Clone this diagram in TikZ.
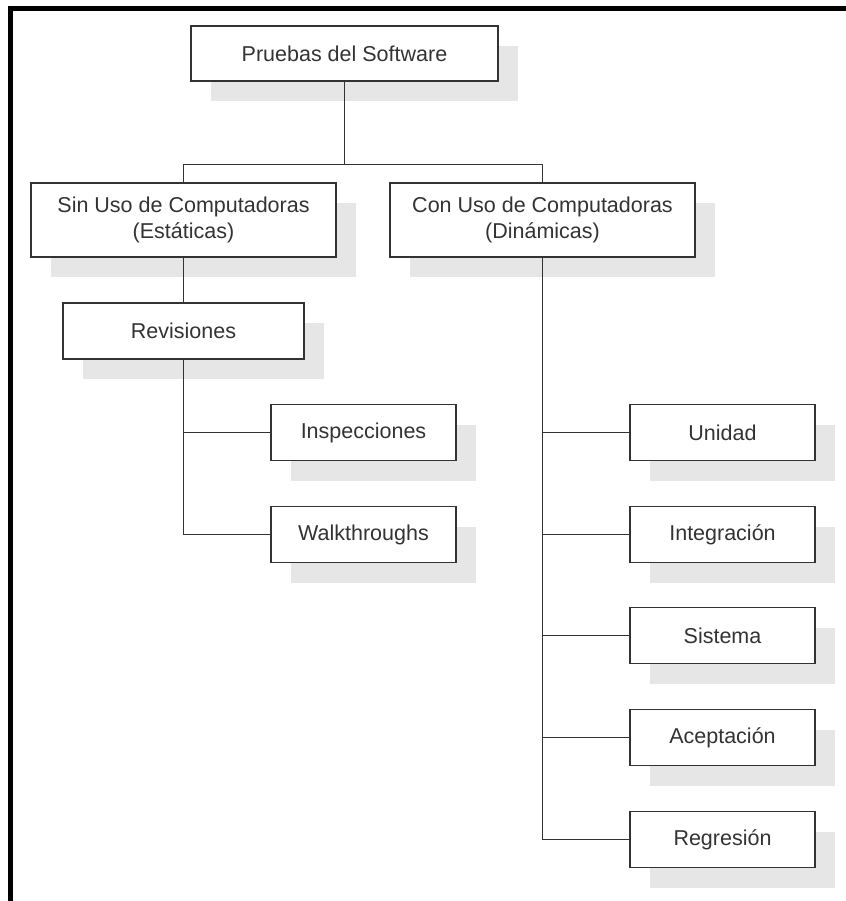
\documentclass[tikz,border=0pt]{standalone}
\usepackage{fontspec}
\setmainfont{Liberation Sans}
\usetikzlibrary{shadows}
\definecolor{ink}{HTML}{333333}
\definecolor{shade}{HTML}{E6E6E6}
\begin{document}
\begin{tikzpicture}[x=1bp,y=-1bp,
  box/.style={draw=ink, line width=1.7bp, fill=white, text=ink,
    inner sep=0pt, align=center,
    font=\fontsize{21.5bp}{26bp}\selectfont,
    general shadow={fill=shade, shadow xshift=20bp, shadow yshift=-20bp}},
  wide/.style={box, minimum width=305bp, minimum height=74bp},
  mid/.style={box, minimum width=241bp, minimum height=56bp},
  leaf/.style={box, minimum width=185bp, minimum height=56bp},
  link/.style={draw=ink, line width=1.7bp}]
  % page frame
  \useasboundingbox (0,0) rectangle (846,901);
  \fill[black] (8,6) rectangle (846,11);
  \fill[black] (8,6) rectangle (13,901);

  % root
  \node[box, minimum width=307bp, minimum height=55bp] (root) at (344.5,53.5) {Pruebas del Software};

  % first level
  \node[wide] (stat) at (183.5,220) {Sin Uso de Computadoras\\(Estáticas)};
  \node[wide] (dyn)  at (542.5,220) {Con Uso de Computadoras\\(Dinámicas)};

  % static branch
  \node[mid]  (rev)  at (183.5,331) {Revisiones};
  \node[leaf] (insp) at (363.5,432.5) {Inspecciones};
  \node[leaf] (walk) at (363.5,534.5) {Walkthroughs};

  % dynamic branch
  \node[leaf] (unit) at (722.5,432.5) {Unidad};
  \node[leaf] (intg) at (722.5,534.5) {Integración};
  \node[leaf] (sys)  at (722.5,635.5) {Sistema};
  \node[leaf] (acc)  at (722.5,737.5) {Aceptación};
  \node[leaf] (reg)  at (722.5,839.5) {Regresión};

  % connectors
  \coordinate (bus) at (344.5,164.5);
  \draw[link] (root.south) -- (bus);
  \draw[link] (stat.north) -- (stat.north |- bus) -- (dyn.north |- bus) -- (dyn.north);
  \draw[link] (stat.south) -- (rev.north);
  \draw[link] (rev.south) |- (insp.west);
  \draw[link] (rev.south) |- (walk.west);
  \draw[link] (dyn.south) |- (unit.west);
  \draw[link] (dyn.south) |- (intg.west);
  \draw[link] (dyn.south) |- (sys.west);
  \draw[link] (dyn.south) |- (acc.west);
  \draw[link] (dyn.south) |- (reg.west);
\end{tikzpicture}
\end{document}
